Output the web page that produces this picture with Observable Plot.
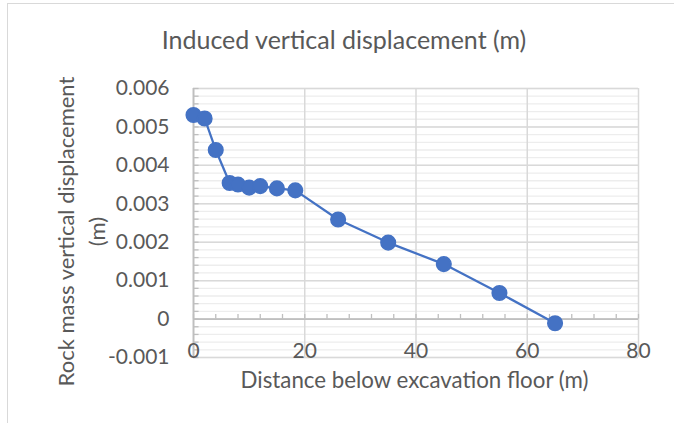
<!DOCTYPE html>
<html>
<head>
<meta charset="utf-8">
<script src="https://cdn.jsdelivr.net/npm/d3@7"></script>
<script src="https://cdn.jsdelivr.net/npm/@observablehq/plot@0.6"></script>
<style>
  html, body { margin: 0; padding: 0; background: #fff; overflow: hidden; }
  #frame { position: absolute; left: 7px; top: 3px; width: 720px; height: 460px;
           border-left: 1px solid #d9d9d9; border-top: 1px solid #d9d9d9; }
  #title { position: absolute; left: 0; top: 0; width: 674px; height: 60px;
           font-family: Lato, sans-serif; font-size: 25px; color: #595959; line-height: 1; }
  #title span { position: absolute; left: 0; right: 0; text-align: center; padding-left: 14px; top: 27px; }
  #chart { position: absolute; left: 0; top: 60px; }
  svg text { fill: #595959; }
</style>
</head>
<body>
<div id="frame"></div>
<div id="title"><span>Induced vertical displacement (m)</span></div>
<div id="chart"></div>
<script>
// Data
const distance = [0, 2, 4, 6.5, 8, 10, 12, 15, 18.3, 26, 35, 45, 55, 65];
const displacement = [0.00531, 0.00522, 0.00440, 0.00354, 0.00350, 0.00342, 0.00346, 0.00340, 0.00335, 0.00259, 0.00199, 0.00143, 0.00068, -0.00011];
const yTicks = [-0.001, 0, 0.001, 0.002, 0.003, 0.004, 0.005, 0.006];
const yTickLabels = ["-0.001", "0", "0.001", "0.002", "0.003", "0.004", "0.005", "0.006"];
const xTicks = [0, 20, 40, 60, 80];
const xTickLabels = ["0", "20", "40", "60", "80"];
const yMinor = d3.range(-10, 61, 2).map(i => +(i * 0.0001).toFixed(4));
const xMinor = d3.range(0, 81, 4);
const xLabel = "Distance below excavation floor (m)";
const yLabel = "Rock mass vertical displacement\n(m)";

const points = distance.map((d, i) => ({distance: d, displacement: displacement[i]}));
const fontFam = "Lato, sans-serif";

const plot = Plot.plot({
  width: 674,
  height: 363,
  marginLeft: 193,
  marginRight: 36,
  marginTop: 28,
  marginBottom: 66,
  style: {fontFamily: fontFam, fontSize: "21px", color: "#595959", background: "transparent", overflow: "visible"},
  x: {domain: [0, 80], axis: null},
  y: {domain: [-0.001, 0.006], axis: null},
  marks: [
    // minor horizontal gridlines
    Plot.ruleY(yMinor, {stroke: "#ededed", strokeWidth: 1.3}),
    // major horizontal gridlines
    Plot.ruleY(yTicks, {stroke: "#d9d9d9", strokeWidth: 1.5}),
    // major vertical gridlines
    Plot.ruleX(xTicks, {stroke: "#d9d9d9", strokeWidth: 1.5}),
    // y axis line at x=0 and minor ticks
    Plot.ruleX([0], {stroke: "#bfbfbf", strokeWidth: 1.8}),
    Plot.ruleY(yMinor, {x1: 0, x2: 1, stroke: "#bfbfbf", strokeWidth: 1.3}),
    // x axis line at y=0 and minor ticks
    Plot.ruleY([0], {stroke: "#bfbfbf", strokeWidth: 1.8}),
    Plot.ruleX(xMinor, {y1: 0, y2: 0.00012, stroke: "#bfbfbf", strokeWidth: 1.3}),
    // y tick labels
    Plot.axisY(yTicks, {anchor: "left", label: null, tickSize: 0, tickPadding: 24, fontSize: 21,
      tickFormat: d => yTickLabels[yTicks.indexOf(d)]}),
    // x tick labels (placed low, near bottom of plot)
    Plot.text(xTicks, {x: d => d, y: () => -0.001, dy: -6, text: (d, i) => xTickLabels[i],
      fontSize: 21, lineAnchor: "middle", textAnchor: "middle", fill: "#595959"}),
    // axis titles
    Plot.text([xLabel], {frameAnchor: "bottom", dy: 23, dx: -1.5, text: d => d,
      fontSize: 22.3, lineAnchor: "middle", textAnchor: "middle", fill: "#595959"}),
    Plot.text([yLabel], {frameAnchor: "left", dx: -113.5, dy: 8.5, rotate: -90, text: d => d,
      fontSize: 22, lineAnchor: "middle", textAnchor: "middle", lineHeight: 1.4, fill: "#595959"}),
    // series
    Plot.line(points, {x: "distance", y: "displacement", stroke: "#4472C4", strokeWidth: 2.25}),
    Plot.dot(points, {x: "distance", y: "displacement", r: 7.3, fill: "#4472C4", stroke: "#4472C4"})
  ]
});
document.getElementById("chart").appendChild(plot);
</script>
</body>
</html>
